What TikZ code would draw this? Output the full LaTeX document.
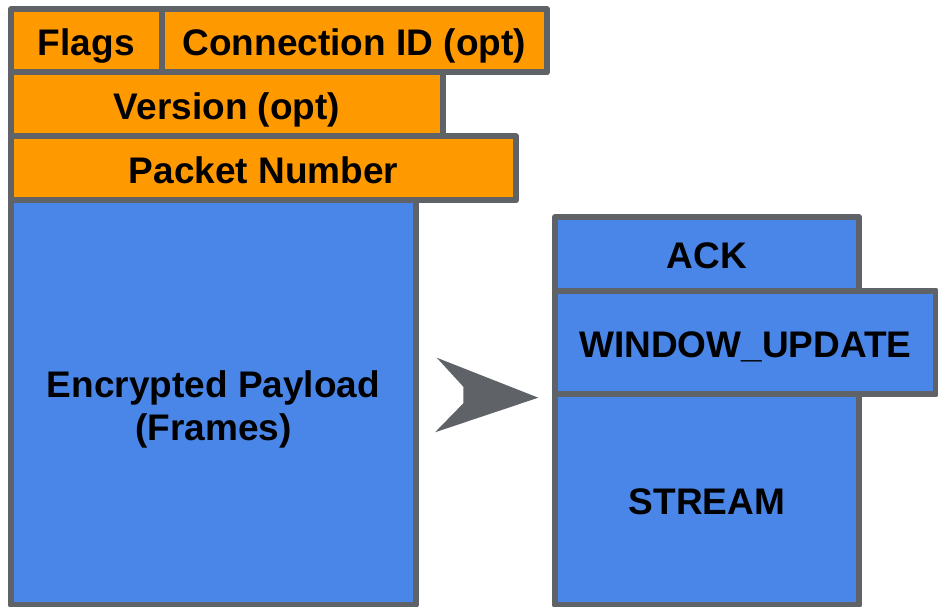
\documentclass[tikz,border=0pt]{standalone}
\usepackage{fontspec}
\setmainfont{Liberation Sans}
\definecolor{qorange}{HTML}{FF9900}
\definecolor{qblue}{HTML}{4A86E8}
\definecolor{qgray}{HTML}{5F6368}
\begin{document}
\begin{tikzpicture}[x=1pt,y=-1pt,
  field/.style={draw=qgray, line width=6pt, line join=round, rectangle, inner sep=0pt, outer sep=0pt,
    font=\fontsize{37}{43}\selectfont\bfseries, text height=29.5pt, text depth=0pt, align=center},
  hdr/.style={field, fill=qorange},
  frm/.style={field, fill=qblue},
  lbl/.style={inner sep=0pt, font=\fontsize{37}{43}\selectfont\bfseries, align=center}]
\useasboundingbox (0,0) rectangle (938,607);
\node[hdr, minimum width=150.5pt, minimum height=63.5pt] (flags) at (86.25,40.75) {Flags};
\node[hdr, minimum width=385.5pt, minimum height=63.5pt] (cid) at (354.25,40.75) {Connection ID (opt)};
\node[hdr, minimum width=432pt, minimum height=64pt] (ver) at (227,104.5) {Version (opt)};
\node[hdr, minimum width=505pt, minimum height=64pt] (pn) at (263.5,168.5) {Packet Number};
\node[frm, minimum width=404.5pt, minimum height=404.5pt] (pay) at (213.25,402.75) {};
\node[lbl] (paytxt) at (213.5,409.5) {Encrypted Payload\\(Frames)};
\node[frm, minimum width=304pt, minimum height=74pt] (ack) at (707,254) {ACK};
\node[frm, minimum width=381pt, minimum height=102.7pt] (wu) at (745.5,342.35) {WINDOW\_UPDATE};
\node[frm, minimum width=304pt, minimum height=211.3pt] (st) at (707,499.35) {STREAM};
\fill[qgray] (436.7,357.7) -- (538.3,397.7) -- (435,432.3) -- (463.3,403.3) -- (463.3,386.7) -- cycle;
\end{tikzpicture}
\end{document}
